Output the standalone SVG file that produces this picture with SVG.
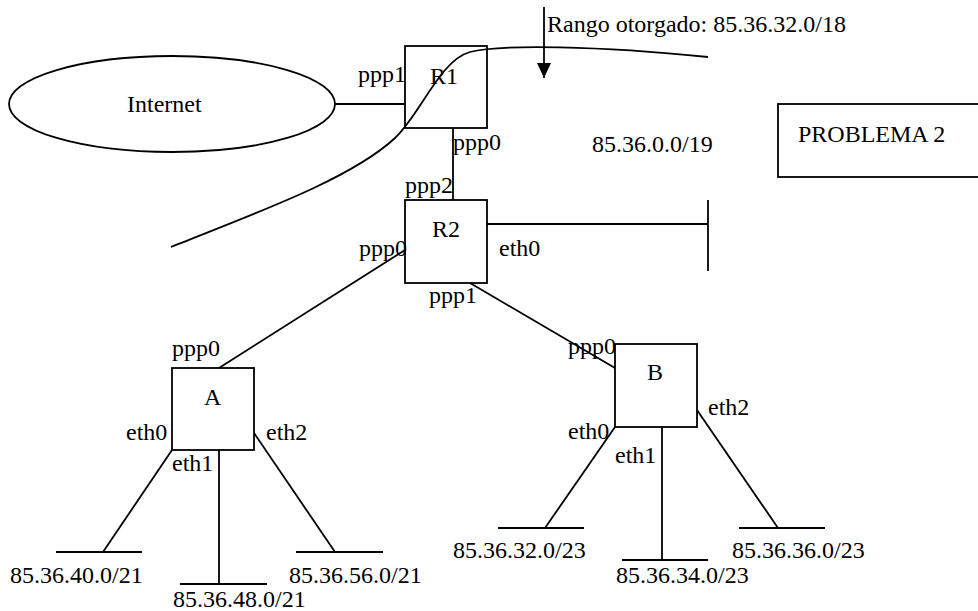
<svg xmlns="http://www.w3.org/2000/svg" width="978" height="611" viewBox="0 0 978 611">
<style>
  .ln { fill: none; stroke: #000; stroke-width: 1.8; }
  .box { fill: #fff; stroke: #000; stroke-width: 1.8; }
  text { font-family: "Liberation Serif", "Times New Roman", serif; font-size: 24px; fill: #000; }
</style>
<defs>
  <marker id="arrow" markerWidth="15" markerHeight="14" refX="15" refY="7" orient="auto" markerUnits="userSpaceOnUse" viewBox="0 0 15 14">
    <path d="M0,0 L15,7 L0,14 Z" fill="#000"/>
  </marker>
</defs>
<rect width="978" height="611" fill="#fff"/>

<g id="connectors">
  <line class="ln" x1="335" y1="104" x2="405" y2="104"/>
  <line class="ln" x1="453" y1="128" x2="453" y2="200"/>
  <line class="ln" x1="487" y1="224" x2="708" y2="224"/>
  <line class="ln" x1="708" y1="200" x2="708" y2="271"/>
  <line class="ln" x1="405" y1="250" x2="219" y2="368"/>
  <line class="ln" x1="470" y1="283" x2="615" y2="368"/>
  <!-- A subnets -->
  <line class="ln" x1="172" y1="450" x2="103" y2="552"/>
  <line class="ln" x1="56" y1="552" x2="142" y2="552"/>
  <line class="ln" x1="219" y1="450" x2="219" y2="584"/>
  <line class="ln" x1="180" y1="584" x2="267" y2="584"/>
  <line class="ln" x1="254" y1="433" x2="335" y2="552"/>
  <line class="ln" x1="296" y1="552" x2="383" y2="552"/>
  <!-- B subnets -->
  <line class="ln" x1="615" y1="427" x2="545" y2="528"/>
  <line class="ln" x1="498" y1="528" x2="584" y2="528"/>
  <line class="ln" x1="662" y1="427" x2="662" y2="560"/>
  <line class="ln" x1="622" y1="560" x2="708" y2="560"/>
  <line class="ln" x1="697" y1="410" x2="778" y2="528"/>
  <line class="ln" x1="739" y1="528" x2="825" y2="528"/>
  <!-- boundary curve -->
  <path class="ln" d="M171,247 C250,215 350,180 395,138 C420,115 440,60 470,52 C500,44 600,46 708,57"/>
  <!-- arrow -->
  <line class="ln" x1="544" y1="7" x2="544" y2="78" marker-end="url(#arrow)"/>
</g>

<g id="internet">
  <ellipse class="box" cx="172" cy="104" rx="163" ry="48"/>
  <text x="127" y="112">Internet</text>
</g>

<g id="R1">
  <rect class="ln" x="405" y="46" width="82" height="82"/>
  <text x="430" y="84">R1</text>
  <text x="358" y="82">ppp1</text>
  <text x="453" y="150">ppp0</text>
</g>

<g id="R2">
  <rect class="box" x="405" y="200" width="82" height="83"/>
  <text x="432" y="237">R2</text>
  <text x="405" y="193">ppp2</text>
  <text x="359" y="256">ppp0</text>
  <text x="499" y="256">eth0</text>
  <text x="429" y="303">ppp1</text>
</g>

<g id="A">
  <rect class="box" x="172" y="368" width="82" height="82"/>
  <text x="204" y="405">A</text>
  <text x="172" y="356">ppp0</text>
  <text x="126" y="440">eth0</text>
  <text x="172" y="471">eth1</text>
  <text x="266" y="440">eth2</text>
</g>

<g id="B">
  <rect class="box" x="615" y="344" width="82" height="83"/>
  <text x="647" y="380">B</text>
  <text x="568" y="354">ppp0</text>
  <text x="568" y="439">eth0</text>
  <text x="615" y="463">eth1</text>
  <text x="708" y="415">eth2</text>
</g>

<g id="subnets">
  <text x="10" y="583">85.36.40.0/21</text>
  <text x="173" y="607">85.36.48.0/21</text>
  <text x="289" y="583">85.36.56.0/21</text>
  <text x="453" y="558">85.36.32.0/23</text>
  <text x="616" y="583">85.36.34.0/23</text>
  <text x="732" y="558">85.36.36.0/23</text>
</g>

<g id="labels">
  <text x="547" y="32">Rango otorgado: 85.36.32.0/18</text>
  <text x="592" y="152">85.36.0.0/19</text>
</g>

<g id="problema">
  <rect class="ln" x="778" y="104" width="202" height="73"/>
  <text x="798" y="142">PROBLEMA 2</text>
</g>
</svg>
